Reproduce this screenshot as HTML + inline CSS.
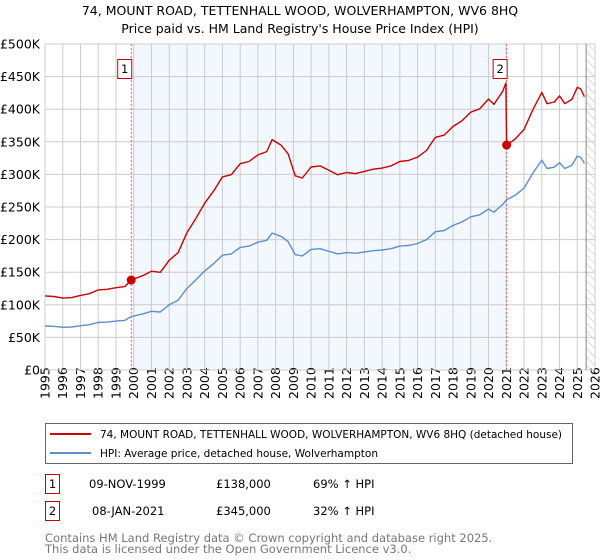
<!DOCTYPE html>
<html><head><meta charset="utf-8"><style>
body{margin:0;background:#fff;font-family:"Liberation Sans","DejaVu Sans",sans-serif;}
svg{display:block}
text{font-family:"DejaVu Sans","Liberation Sans",sans-serif;}
</style></head><body>
<svg id="chart" width="600" height="560" viewBox="0 0 600 560" xmlns="http://www.w3.org/2000/svg">
<defs><pattern id="hatch" width="6" height="6" patternUnits="userSpaceOnUse" patternTransform="rotate(-45)"><line x1="0" y1="0" x2="0" y2="6" stroke="#bbb" stroke-width="1"/></pattern></defs>
<text x="300" y="15" text-anchor="middle" font-size="12.5">74, MOUNT ROAD, TETTENHALL WOOD, WOLVERHAMPTON, WV6 8HQ</text>
<text x="300" y="33" text-anchor="middle" font-size="12.5">Price paid vs. HM Land Registry's House Price Index (HPI)</text>
<g id="grid"></g>
<g id="marks"></g>
<g id="legend">
<rect x="45.5" y="423.5" width="527" height="40" fill="#fff" stroke="#666"/>
<line x1="50" y1="434" x2="91" y2="434" stroke="#cc0000" stroke-width="2"/>
<text x="100" y="438" font-size="11" textLength="462" lengthAdjust="spacingAndGlyphs">74, MOUNT ROAD, TETTENHALL WOOD, WOLVERHAMPTON, WV6 8HQ (detached house)</text>
<line x1="50" y1="453" x2="91" y2="453" stroke="#5b8fd1" stroke-width="2"/>
<text x="100" y="457" font-size="11" textLength="278" lengthAdjust="spacingAndGlyphs">HPI: Average price, detached house, Wolverhampton</text>
</g>
<g font-size="11.5">
<rect x="45.5" y="474.5" width="14" height="19" fill="#fff" stroke="#cc0000"/>
<text x="52.5" y="488" text-anchor="middle">1</text>
<text x="89" y="488">09-NOV-1999</text>
<text x="216" y="488">£138,000</text>
<text x="313" y="488">69% ↑ HPI</text>
<rect x="45.5" y="501.5" width="14" height="19" fill="#fff" stroke="#cc0000"/>
<text x="52.5" y="515" text-anchor="middle">2</text>
<text x="92" y="515">08-JAN-2021</text>
<text x="216" y="515">£345,000</text>
<text x="313" y="515">32% ↑ HPI</text>
</g>
<text x="45" y="542" font-size="11.5" fill="#777">Contains HM Land Registry data © Crown copyright and database right 2025.</text>
<text x="45" y="553" font-size="11.5" fill="#777">This data is licensed under the Open Government Licence v3.0.</text>
</svg>
<script>
const years=[1995,1995.5,1996,1996.5,1997,1997.5,1998,1998.5,1999,1999.5,1999.86,2000.5,2001,2001.5,2002,2002.5,2003,2003.5,2004,2004.5,2005,2005.5,2006,2006.5,2007,2007.5,2007.8,2008.3,2008.7,2009.1,2009.5,2010,2010.5,2011,2011.5,2012,2012.5,2013,2013.5,2014,2014.5,2015,2015.5,2016,2016.5,2017,2017.5,2018,2018.5,2019,2019.5,2020,2020.3,2020.8,2020.98,2021.02,2021.5,2022,2022.5,2023,2023.3,2023.7,2024,2024.3,2024.7,2025,2025.2,2025.4];
const hpiValues=[67.5,67,65.5,66,68,69.5,73,73.5,75,76,82,86,90,89,100,107,125,138,152,163,176,178,188,190,196,199,210,205,197,177,175,185,186,182,178,180,179,181,183,184,186,190,191,194,200,212,214,222,227,235,238,247,242,254,260,261,268,279,302,322,309,311,318,309,314,328,326,317];
const priceValues=[113.6,112.8,110.2,111,114.4,117,122.9,123.7,126.2,127.9,138,144.7,151.5,149.8,168.3,180,210.4,232.3,255.8,274.3,296.2,299.6,316.4,319.8,329.9,334.9,353.4,345,331.6,297.9,294.5,311.4,313,306.3,299.6,302.9,301.3,304.6,308,309.7,313,319.8,321.5,326.5,336.6,356.8,360.2,373.6,382,395.5,400.6,415.7,407.3,427.5,440,345,354.3,368.8,399.2,425.7,408.5,411.1,420.4,408.5,415.1,433.6,431,419.1];
const saleYears=[1999.86,2021.02];
const salePrices=[138,345];
const saleLabels=["1","2"];
const yTicks=[0,50,100,150,200,250,300,350,400,450,500];
const yTickLabels=["£0","£50K","£100K","£150K","£200K","£250K","£300K","£350K","£400K","£450K","£500K"];
const xTicks=[];for(let y=1995;y<=2026;y++)xTicks.push(y);
const hatchStart=2025.5;

const NS="http://www.w3.org/2000/svg";
const L=45,R=595,T=44,B=370;
const x=v=>L+(v-1995)/(2026-1995)*(R-L);
const y=v=>B-v/500*(B-T);
function mk(tag,attrs,parent){const e=document.createElementNS(NS,tag);for(const k in attrs)e.setAttribute(k,attrs[k]);parent.appendChild(e);return e;}
const grid=document.getElementById('grid'),marks=document.getElementById('marks');
let e=mk('rect',{x:x(saleYears[0]),y:T,width:x(saleYears[1])-x(saleYears[0]),height:B-T,fill:'#eef3fd',opacity:0.7},grid);


e=mk('rect',{x:x(hatchStart),y:T,width:R-x(hatchStart),height:B-T,fill:'url(#hatch)'},grid);


xTicks.forEach(t=>{
 let l=mk('line',{x1:x(t),x2:x(t),y1:T,y2:B,stroke:'#ccc','stroke-width':1},grid);
 
 
 let tx=mk('text',{x:0,y:0,'font-size':12.5,transform:`translate(${x(t)+4.5},${399}) rotate(-90)`},grid);
 tx.textContent=t;
 
 
});
yTicks.forEach((t,i)=>{
 let l=mk('line',{x1:L,x2:R,y1:y(t),y2:y(t),stroke:'#ccc','stroke-width':1},grid);
 
 
 let tx=mk('text',{x:40,y:y(t)+4.5,'text-anchor':'end','font-size':12.5},grid);
 tx.textContent=yTickLabels[i];
 
 
});
e=mk('line',{x1:x(hatchStart),x2:x(hatchStart),y1:T,y2:B,stroke:'#888','stroke-width':1},grid);


saleYears.forEach((s,i)=>{
 let l=mk('line',{x1:x(s),x2:x(s),y1:T,y2:B,stroke:'#e06060','stroke-width':1,'stroke-dasharray':'2,2'},marks);
 
 
});
function path(vals,color,name){
 const d=vals.map((v,i)=>(i?'L':'M')+x(years[i]).toFixed(1)+','+y(v).toFixed(1)).join('');
 const p=mk('path',{d:d,fill:'none',stroke:color,'stroke-width':1.4,'stroke-linejoin':'round'},marks);
 
 
}
path(hpiValues,'#5b8fd1','hpi-line');
path(priceValues,'#cc0000','price-line');
saleYears.forEach((s,i)=>{
 let c=mk('circle',{cx:x(s),cy:y(salePrices[i]),r:4.5,fill:'#cc0000'},marks);
 
 
 let r=mk('rect',{x:x(s)-13.5,y:59.5,width:14,height:19,fill:'#fff',stroke:'#cc0000'},marks);
 
 
 let t=mk('text',{x:x(s)-6.5,y:73,'text-anchor':'middle','font-size':11.5},marks);
 t.textContent=saleLabels[i];
 
 
});
</script>
</body></html>
